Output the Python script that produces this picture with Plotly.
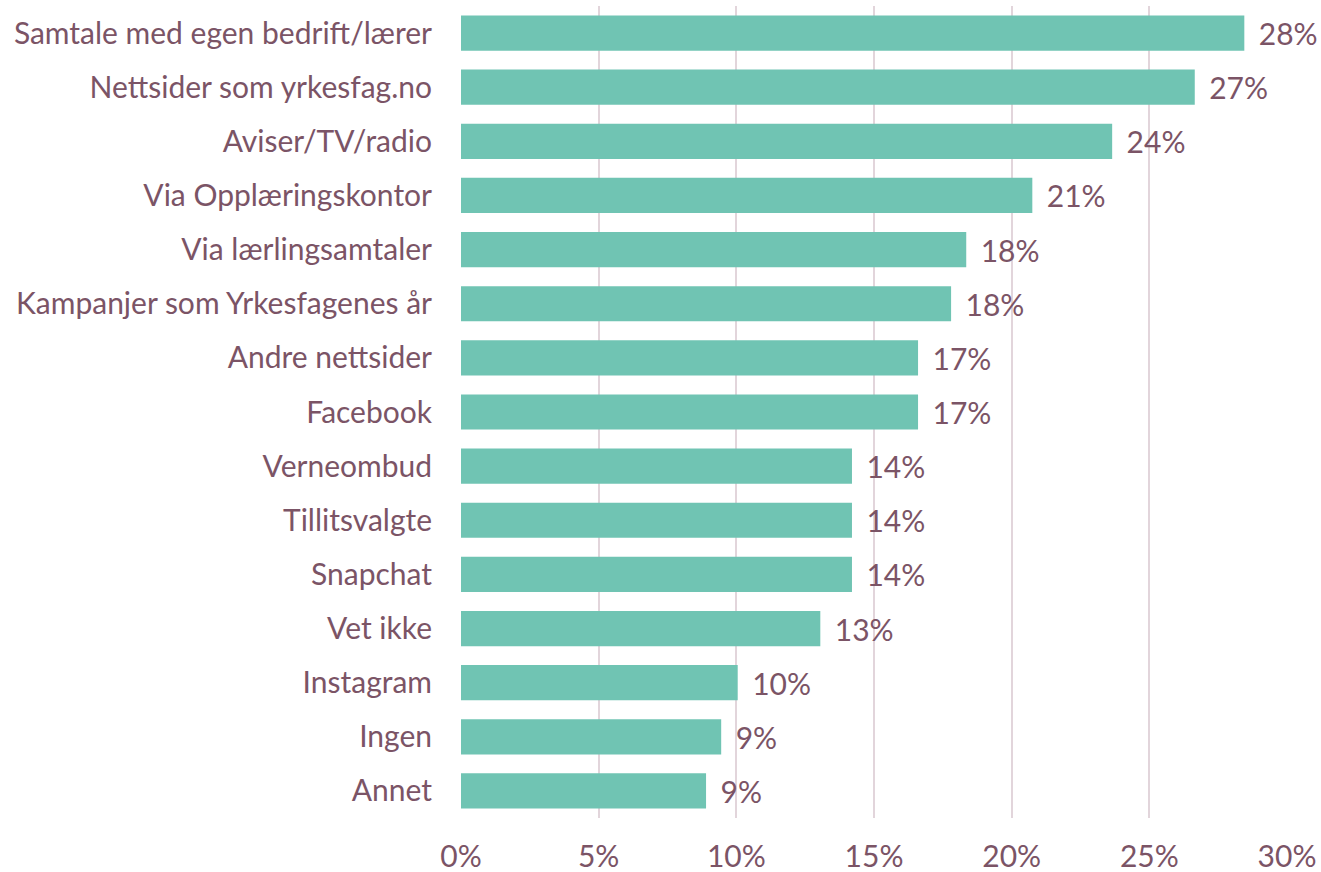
import plotly.graph_objects as go

categories = [
    "Samtale med egen bedrift/lærer",
    "Nettsider som yrkesfag.no",
    "Aviser/TV/radio",
    "Via Opplæringskontor",
    "Via lærlingsamtaler",
    "Kampanjer som Yrkesfagenes år",
    "Andre nettsider",
    "Facebook",
    "Verneombud",
    "Tillitsvalgte",
    "Snapchat",
    "Vet ikke",
    "Instagram",
    "Ingen",
    "Annet",
]
values = [28.45, 26.65, 23.65, 20.75, 18.35, 17.8, 16.6, 16.6, 14.2, 14.2, 14.2, 13.05, 10.05, 9.45, 8.9]
labels = [f"{round(v)}%" for v in values]
x_ticks = [0, 5, 10, 15, 20, 25, 30]
x_tick_labels = [f"{t}%" for t in x_ticks]

text_color = "#7b5466"
bar_color = "#70c4b3"
grid_color = "#e2d5db"
font_family = "Lato, 'Open Sans', sans-serif"
fsize = 30

fig = go.Figure(
    go.Bar(
        x=values,
        y=categories,
        orientation="h",
        marker=dict(color=bar_color, line=dict(width=0)),
        text=["\u00a0\u2009" + l for l in labels],
        textposition="outside",
        textfont=dict(color=text_color, size=fsize, family=font_family),
        cliponaxis=False,
        hoverinfo="skip",
    )
)

fig.update_layout(
    width=1321,
    height=872,
    margin=dict(l=461, r=34, t=6, b=54, autoexpand=False),
    paper_bgcolor="white",
    plot_bgcolor="white",
    bargap=0.35,
    showlegend=False,
    font=dict(family=font_family, color=text_color, size=fsize),
    uniformtext=dict(minsize=fsize, mode="show"),
)
fig.update_xaxes(
    range=[0, 30],
    tickvals=x_ticks,
    ticktext=x_tick_labels,
    showgrid=True,
    gridcolor=grid_color,
    gridwidth=2,
    zeroline=False,
    showline=False,
    ticks="",
    automargin=False,
    ticklabelstandoff=18,
    tickfont=dict(size=fsize, color=text_color, family=font_family),
    fixedrange=True,
)
fig.update_yaxes(
    autorange="reversed",
    showgrid=False,
    showline=False,
    ticks="",
    automargin=False,
    ticklabelstandoff=28,
    tickfont=dict(size=fsize, color=text_color, family=font_family),
    fixedrange=True,
)

fig.write_html(
    "out.html",
    config={"displayModeBar": False},
    post_script="document.body.style.margin='0';document.body.style.overflow='hidden';",
)
